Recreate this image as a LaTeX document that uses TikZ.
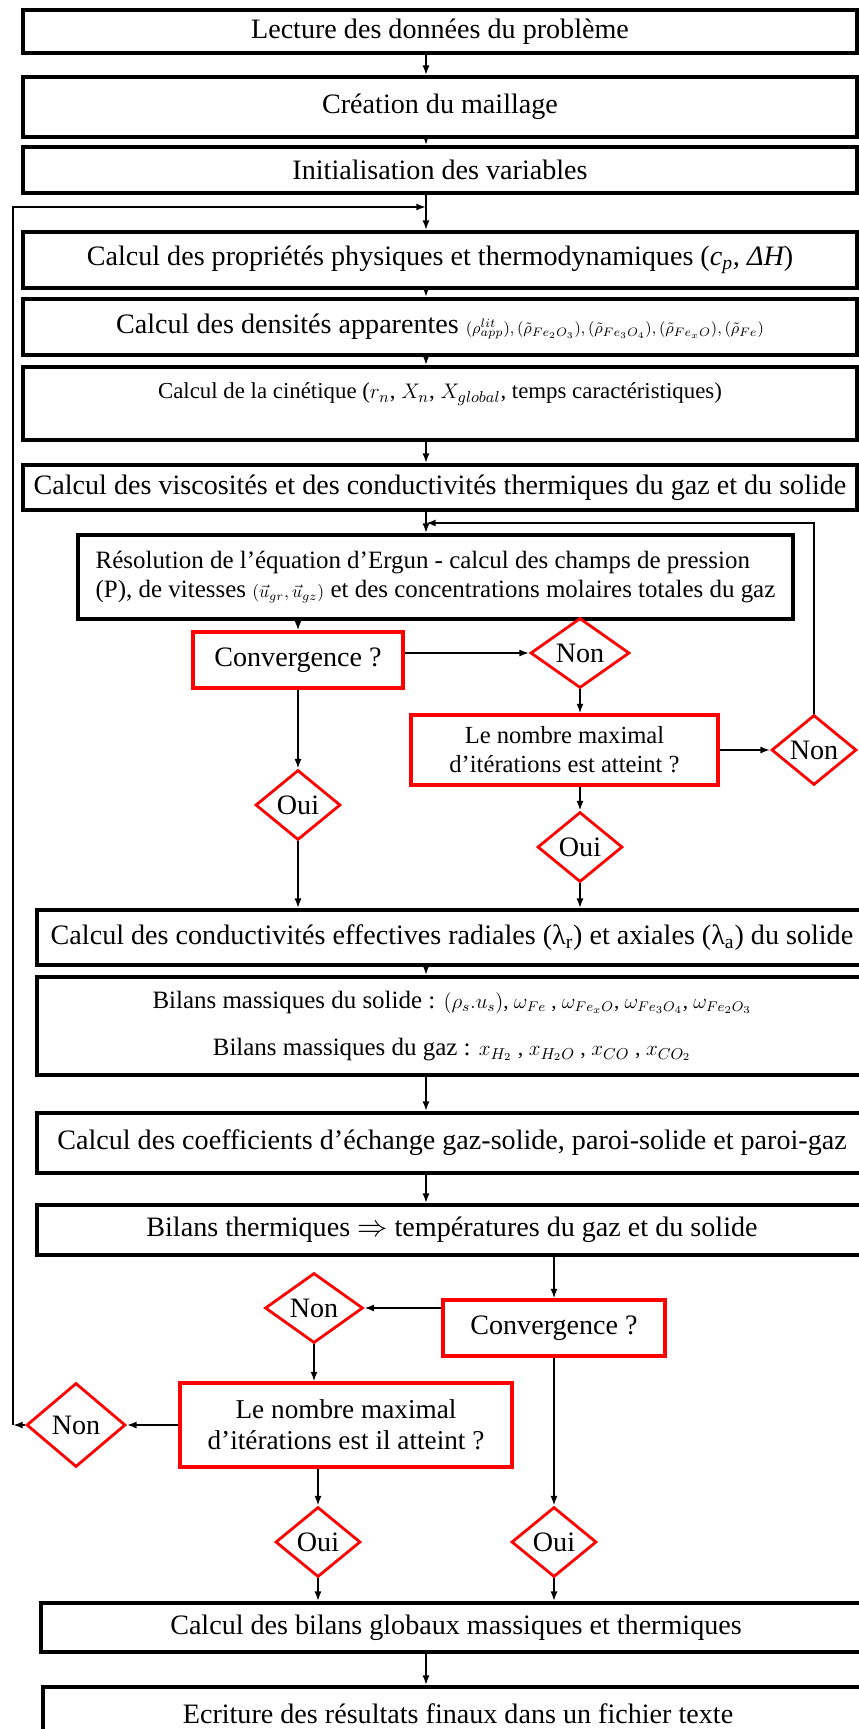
\documentclass[tikz,border=0pt]{standalone}
\usepackage{fontspec}
\setmainfont{Liberation Serif}
\usepackage{amsmath}
\usetikzlibrary{arrows.meta,shapes.geometric}

\begin{document}
\begin{tikzpicture}[x=0.02cm,y=-0.02cm,
 every node/.style={font=\fontsize{16}{19}\selectfont,align=center,inner sep=0pt},
 box/.style={draw=black,line width=2.2pt,minimum height=0.9cm},
 wide/.style={box,minimum width=16.68cm},
 question/.style={draw=red,line width=1.8pt,minimum height=1.12cm},
 answer/.style={diamond,draw=red,line width=1.6pt,minimum width=1.7cm,minimum height=1.4cm},
 arrow/.style={-{Latex[length=5.5pt,width=4pt]},line width=1pt}]
\useasboundingbox (0,0) rectangle (859,1729);
\clip (0,0) rectangle (859,1729);
\coordinate (axis) at (426,0);
% initialisation
\node[wide,minimum height=0.86cm] (lecture) at (440,31.5) {Lecture des données du problème};
\node[wide,minimum height=1.2cm] (maillage) at (440,107) {Création du maillage};
\node[wide,minimum height=0.92cm] (init) at (440,170) {Initialisation des variables};
\coordinate (retour) at (426,207);
% proprietes et cinetique
\node[wide,minimum height=1.12cm] (proprietes) at (440,260) {Calcul des propriétés physiques et thermodynamiques ({\itshape c\textsubscript{p}, ΔH})};
\node[wide,minimum height=1.12cm] (densites) at (440,327) {Calcul des densités apparentes {\fontsize{9.5}{12}\selectfont$(\rho^{lit}_{app}),(\tilde\rho_{Fe_2O_3}),(\tilde\rho_{Fe_3O_4}),(\tilde\rho_{Fe_xO}),(\tilde\rho_{Fe})$}};
\node[wide,minimum height=1.46cm,text depth=0.5cm,font=\fontsize{13}{16}\selectfont] (cinetique) at (440,403.5) {Calcul de la cinétique ($r_n$, $X_n$, $X_{global}$, temps caractéristiques)};
\node[wide,minimum height=0.9cm] (viscosites) at (440,487.5) {Calcul des viscosités et des conductivités thermiques du gaz et du solide};
\coordinate (boucle) at (426,523);
% boucle d'Ergun
\node[box,minimum width=14.3cm,minimum height=1.68cm,align=left,font=\fontsize{14.2}{17}\selectfont] (ergun) at (435.5,577) {Résolution de l’équation d’Ergun - calcul des champs de pression\\(P), de vitesses {\fontsize{10}{12}\selectfont$(\vec u_{gr},\vec u_{gz})$} et des concentrations molaires totales du gaz};
\node[question,minimum width=4.2cm] (conv1) at (298,660) {Convergence ?};
\node[answer,minimum width=1.98cm] (non1) at (580,653) {Non};
\node[question,minimum width=6.14cm,minimum height=1.4cm,font=\fontsize{14}{16.5}\selectfont] (iter1) at (564.5,750) {Le nombre maximal\\d’itérations est atteint ?};
\node[answer] (non2) at (814,750) {Non};
\node[answer] (oui1) at (298,805) {Oui};
\node[answer] (oui2) at (580,847) {Oui};
% bilans
\node[box,minimum width=16.6cm,minimum height=1.1cm] (conductivites) at (452,937.5) {Calcul des conductivités effectives radiales (λ\textsubscript{r}) et axiales (λ\textsubscript{a}) du solide};
\node[box,minimum width=16.6cm,minimum height=1.96cm,font=\fontsize{14.2}{27}\selectfont] (massiques) at (452,1026) {Bilans massiques du solide : {\fontsize{12}{14}\selectfont$(\rho_s.u_s)$, $\omega_{Fe}$ , $\omega_{Fe_xO}$, $\omega_{Fe_3O_4}$, $\omega_{Fe_2O_3}$}\\Bilans massiques du gaz : {\fontsize{12.5}{14}\selectfont$x_{H_2}$ , $x_{H_2O}$ , $x_{CO}$ , $x_{CO_2}$}};
\node[box,minimum width=16.6cm,minimum height=1.2cm] (echange) at (452,1143) {Calcul des coefficients d’échange gaz-solide, paroi-solide et paroi-gaz};
\node[box,minimum width=16.6cm,minimum height=1cm] (thermiques) at (452,1230) {Bilans thermiques $\Rightarrow$\ températures du gaz et du solide};
% boucle thermique
\node[question,minimum width=4.44cm] (conv2) at (554,1328) {Convergence ?};
\node[answer,minimum width=1.96cm] (non3) at (314,1308) {Non};
\node[question,minimum width=6.64cm,minimum height=1.68cm,font=\fontsize{15.5}{17.5}\selectfont] (iter2) at (346,1425) {Le nombre maximal\\d’itérations est il atteint ?};
\node[answer,minimum width=1.98cm,minimum height=1.68cm] (non4) at (76,1425) {Non};
\coordinate (gauche) at (13,1425);
\node[answer] (oui3) at (318,1542) {Oui};
\node[answer] (oui4) at (554,1542) {Oui};
% fin
\node[box,minimum width=16.6cm,minimum height=0.98cm] (globaux) at (456,1627.5) {Calcul des bilans globaux massiques et thermiques};
\node[box,minimum width=16.6cm,minimum height=1.06cm] (ecriture) at (458,1713.5) {Ecriture des résultats finaux dans un fichier texte};
\draw[arrow] (lecture.south -| axis) -- (maillage.north -| axis);
\draw[arrow] (maillage.south -| axis) -- (init.north -| axis);
\draw[arrow] (init.south -| axis) -- (proprietes.north -| axis);
\draw[arrow] (proprietes.south -| axis) -- (densites.north -| axis);
\draw[arrow] (densites.south -| axis) -- (cinetique.north -| axis);
\draw[arrow] (cinetique.south -| axis) -- (viscosites.north -| axis);
\draw[arrow] (viscosites.south -| axis) -- (ergun.north -| axis);
\draw[arrow] (ergun.south -| conv1) -- (conv1.north);
\draw[arrow] (conv1.east |- non1.west) -- (non1.west);
\draw[arrow] (non1.south) -- (non1.south |- iter1.north);
\draw[arrow] (iter1.east |- non2.west) -- (non2.west);
\draw[arrow] (non2.north) |- (boucle);
\draw[arrow] (conv1.south) -- (oui1.north);
\draw[arrow] (iter1.south -| oui2) -- (oui2.north);
\draw[arrow] (oui1.south) -- (oui1.south |- conductivites.north);
\draw[arrow] (oui2.south) -- (oui2.south |- conductivites.north);
\draw[arrow] (conductivites.south -| axis) -- (massiques.north -| axis);
\draw[arrow] (massiques.south -| axis) -- (echange.north -| axis);
\draw[arrow] (echange.south -| axis) -- (thermiques.north -| axis);
\draw[arrow] (thermiques.south -| conv2) -- (conv2.north);
\draw[arrow] (conv2.west |- non3.east) -- (non3.east);
\draw[arrow] (non3.south) -- (non3.south |- iter2.north);
\draw[arrow] (iter2.west) -- (non4.east);
\draw[arrow] (non4.west) -- (gauche);
\draw[arrow] (gauche) |- (retour);
\draw[arrow] (iter2.south -| oui3) -- (oui3.north);
\draw[arrow] (conv2.south) -- (oui4.north);
\draw[arrow] (oui3.south) -- (oui3.south |- globaux.north);
\draw[arrow] (oui4.south) -- (oui4.south |- globaux.north);
\draw[arrow] (globaux.south -| axis) -- (ecriture.north -| axis);
\end{tikzpicture}
\end{document}
